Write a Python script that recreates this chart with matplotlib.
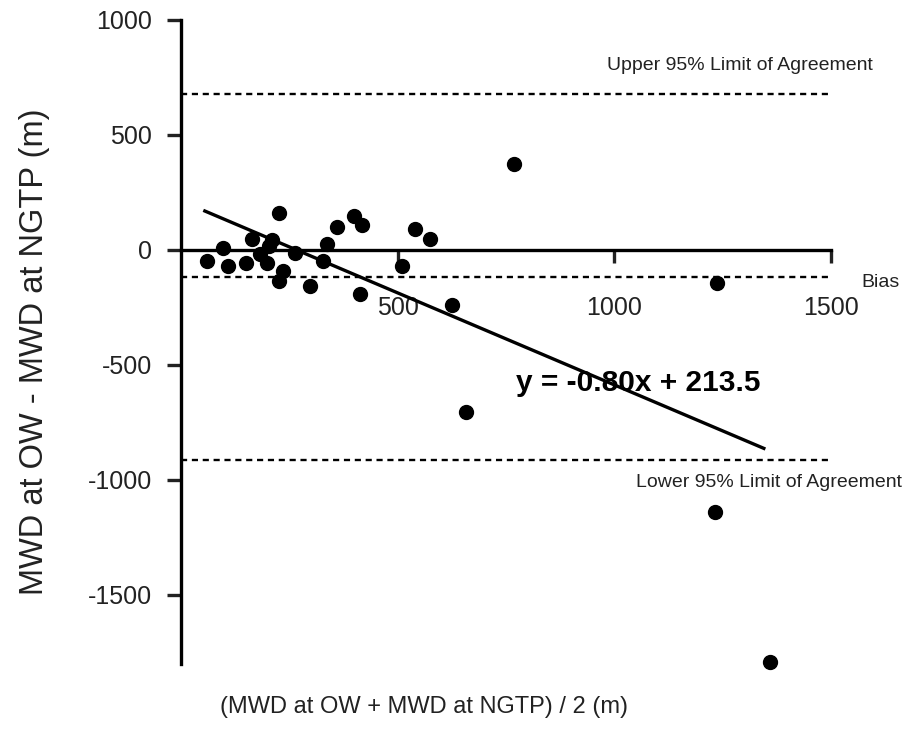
import matplotlib.pyplot as plt
import numpy as np

plt.rcParams['font.family'] = ['Liberation Sans', 'DejaVu Sans']
plt.rcParams['axes.unicode_minus'] = False

# mean of the two methods (x) and their difference (y)
mean_mwd = [59, 96, 108, 151, 164, 182, 199, 203, 211, 226, 236, 226, 264, 297,
            328, 337, 359, 399, 418, 539, 574, 511, 414, 626, 768, 1238, 1232,
            1359, 657]
diff_mwd = [-48, 7, -68, -55, 47, -19, -55, 17, 43, 162, -90, -133, -12, -155,
            -48, 26, 101, 148, 109, 91, 47, -70, -191, -239, 374, -142, -1140,
            -1793, -703]

bias = -117
upper_loa = 680
lower_loa = -913
slope, intercept = -0.80, 213.5
fit_x = [55, 1345]

xticks = [500, 1000, 1500]
yticks = [1000, 500, 0, -500, -1000, -1500]

fig = plt.figure(figsize=(9.1, 7.32), dpi=100)
ax = fig.add_axes([0.1989, 0.0929, 0.7143, 0.8798])

ax.set_xlim(0, 1500)
ax.set_ylim(-1800, 1000)

# limits of agreement and bias
for yv in [upper_loa, bias, lower_loa]:
    ax.plot([0, 1500], [yv, yv], color='black', lw=1.7, ls=(0, (2.6, 2.0)))

ax.plot(mean_mwd, diff_mwd, 'o', color='black', ms=10, clip_on=False, zorder=3)

fx = np.array(fit_x)
ax.plot(fx, slope * fx + intercept, color='black', lw=2.4, zorder=4)

ax.text(772, -578, 'y = -0.80x + 213.5', fontsize=21.5, fontweight='bold', va='center')
ax.text(982, 804, 'Upper 95% Limit of Agreement', fontsize=14, va='center', color='#222222')
ax.text(1051, -1013, 'Lower 95% Limit of Agreement', fontsize=14, va='center',
        color='#222222', clip_on=False)
ax.text(1569, -143, 'Bias', fontsize=14, va='center', color='#222222', clip_on=False)

# axes through the origin
ax.spines['top'].set_visible(False)
ax.spines['right'].set_visible(False)
ax.spines['left'].set_position(('data', 0))
ax.spines['bottom'].set_position(('data', 0))
for s in ['left', 'bottom']:
    ax.spines[s].set_linewidth(2.4)

ax.set_xticks(xticks)
ax.set_yticks(yticks)
ax.tick_params(axis='x', direction='out', length=9, width=2.4, labelsize=18, pad=24,
               colors='#222222')
ax.tick_params(axis='y', direction='out', length=10, width=2.4, labelsize=18, pad=11,
               colors='#222222')

fig.text(0.038, 0.52, 'MWD at OW - MWD at NGTP (m)', rotation=90, fontsize=23.5,
         ha='center', va='center', color='#222222')
fig.text(0.466, 0.034, '(MWD at OW + MWD at NGTP) / 2 (m)', fontsize=17,
         ha='center', va='center', color='#222222')

fig.savefig('out.png', dpi=100)
